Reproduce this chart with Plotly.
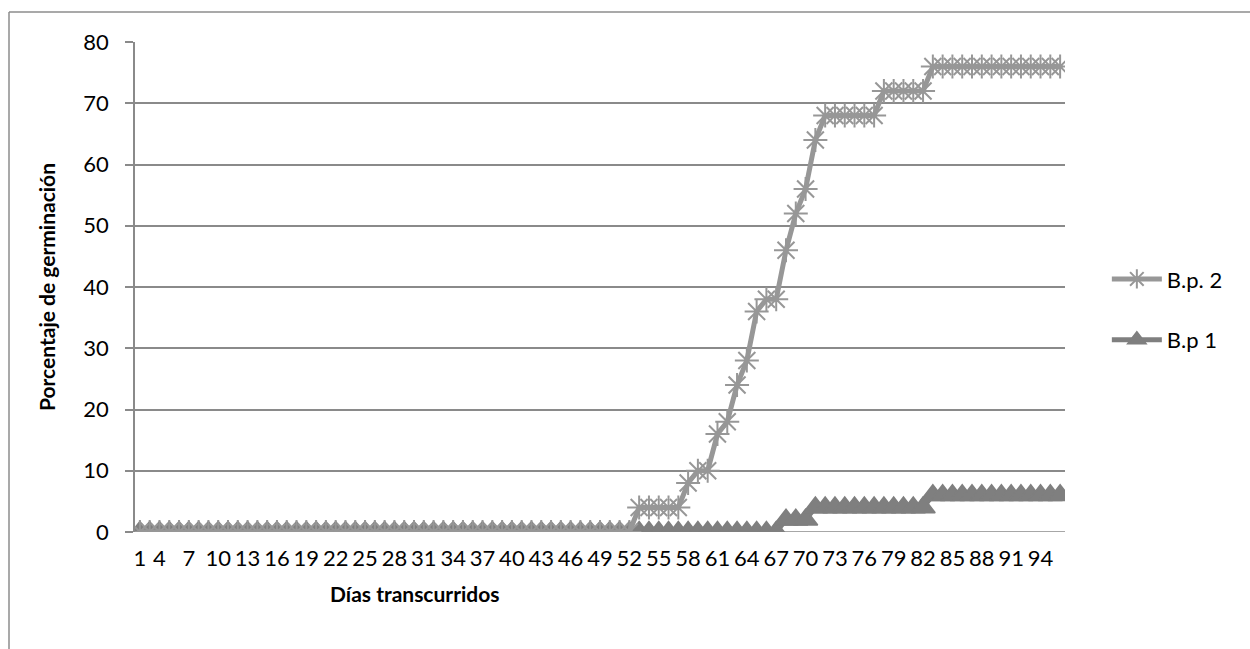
import plotly.graph_objects as go

# Days elapsed (categories) and cumulative germination percentage per lot
dias = [str(d) for d in range(1, 96)]

bp2 = [
    0, 0, 0, 0, 0, 0, 0, 0, 0, 0,
    0, 0, 0, 0, 0, 0, 0, 0, 0, 0,
    0, 0, 0, 0, 0, 0, 0, 0, 0, 0,
    0, 0, 0, 0, 0, 0, 0, 0, 0, 0,
    0, 0, 0, 0, 0, 0, 0, 0, 0, 0,
    0, 4, 4, 4, 4, 4, 8, 10, 10, 16,
    18, 24, 28, 36, 38, 38, 46, 52, 56, 64,
    68, 68, 68, 68, 68, 68, 72, 72, 72, 72,
    72, 76, 76, 76, 76, 76, 76, 76, 76, 76,
    76, 76, 76, 76, 76,
]

bp1 = [
    0, 0, 0, 0, 0, 0, 0, 0, 0, 0,
    0, 0, 0, 0, 0, 0, 0, 0, 0, 0,
    0, 0, 0, 0, 0, 0, 0, 0, 0, 0,
    0, 0, 0, 0, 0, 0, 0, 0, 0, 0,
    0, 0, 0, 0, 0, 0, 0, 0, 0, 0,
    0, 0, 0, 0, 0, 0, 0, 0, 0, 0,
    0, 0, 0, 0, 0, 0, 2, 2, 2, 4,
    4, 4, 4, 4, 4, 4, 4, 4, 4, 4,
    4, 6, 6, 6, 6, 6, 6, 6, 6, 6,
    6, 6, 6, 6, 6,
]

tick_idx = list(range(0, 94, 3))
tick_txt = [dias[i] for i in tick_idx]

FONT = "Lato"
FS = 22
GRID = "#8a8a8a"

fig = go.Figure()

fig.add_trace(go.Scatter(
    x=dias, y=bp1, name="B.p 1", mode="lines+markers",
    line=dict(color="#7f7f7f", width=5),
    marker=dict(symbol="triangle-up", size=21, color="#7f7f7f",
                line=dict(color="#7f7f7f", width=1.5)),
    legend="legend2", showlegend=True,
))

fig.add_trace(go.Scatter(
    x=dias, y=bp2, name="B.p. 2", mode="lines+markers",
    line=dict(color="#979797", width=5),
    marker=dict(symbol="asterisk-open", size=20,
                line=dict(color="#979797", width=2)),
    legend="legend", showlegend=True,
))

fig.update_layout(
    width=1250, height=649,
    showlegend=True,
    margin=dict(l=135, r=185, t=42, b=117),
    paper_bgcolor="white", plot_bgcolor="white",
    font=dict(family=FONT, size=FS, color="#000000"),
    xaxis=dict(
        type="category", range=[-0.5, 94.5],
        tickmode="array", tickvals=tick_idx, ticktext=tick_txt,
        showgrid=False, showline=False, zeroline=False,
        ticks="", ticklabelstandoff=11,
        tickfont=dict(size=FS),
    ),
    yaxis=dict(
        range=[0, 80], dtick=10,
        showgrid=True, gridcolor=GRID, gridwidth=1.6,
        showline=True, linecolor=GRID, linewidth=1.6,
        ticks="outside", ticklen=8, tickcolor=GRID, tickwidth=1.6,
        ticklabelstandoff=12, zeroline=False,
        tickfont=dict(size=FS),
        title=dict(text="<b>Porcentaje de germinación</b>",
                   font=dict(size=FS - 1), standoff=22),
    ),
    legend=dict(x=1.045, y=0.516, xanchor="left", yanchor="middle",
                font=dict(size=FS), bgcolor="rgba(0,0,0,0)", itemwidth=50),
    legend2=dict(x=1.045, y=0.392, xanchor="left", yanchor="middle",
                 font=dict(size=FS), bgcolor="rgba(0,0,0,0)", itemwidth=50),
    annotations=[dict(
        text="<b>Días transcurridos</b>", xref="paper", yref="paper",
        x=(415 - 135) / 930, y=-(593 - 532) / 490, xanchor="center",
        yanchor="middle", showarrow=False, font=dict(size=FS - 1),
    )],
    shapes=[
        # horizontal axis line at zero
        dict(type="line", xref="paper", yref="y", x0=0, x1=1, y0=0, y1=0,
             line=dict(color=GRID, width=1.6), layer="below"),
        # chart border (top and left edges)
        dict(type="line", xref="paper", yref="paper",
             x0=-126 / 930, x1=1115 / 930, y0=1 + 30 / 490, y1=1 + 30 / 490,
             line=dict(color="#8c8c8c", width=1.5)),
        dict(type="line", xref="paper", yref="paper",
             x0=-126 / 930, x1=-126 / 930, y0=1 + 30 / 490, y1=-117 / 490,
             line=dict(color="#8c8c8c", width=1.5)),
    ],
)

fig.write_html("out.html")
